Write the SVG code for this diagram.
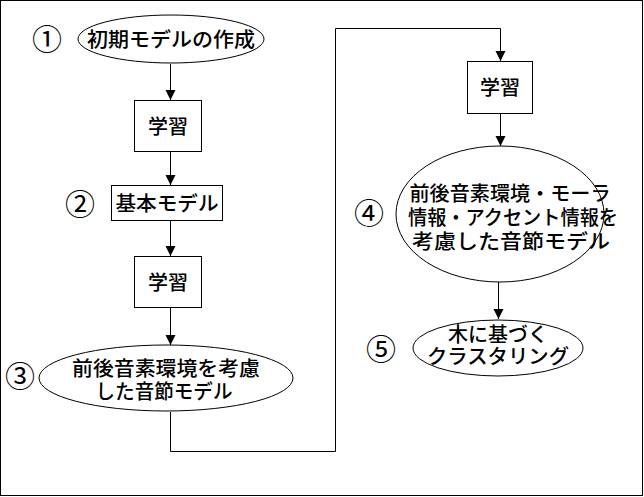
<svg xmlns="http://www.w3.org/2000/svg" width="644" height="497" viewBox="0 0 644 497">
<style>
.s{fill:#fff;stroke:#000;stroke-width:1}
.t{font-family:"Noto Sans CJK JP","Noto Sans CJK SC",sans-serif;font-size:20px;font-weight:500;fill:#000;text-anchor:middle}
.n{font-family:"Noto Sans CJK JP","Noto Sans CJK SC",sans-serif;font-size:30px;fill:#000;text-anchor:middle}
.c{fill:none;stroke:#000;stroke-width:1}
</style>
<defs>
<marker id="ah" markerWidth="10" markerHeight="14" refX="10" refY="7" orient="auto" markerUnits="userSpaceOnUse">
<path d="M0,2 L10,7 L0,12 z" fill="#000"/>
</marker>
</defs>
<rect x="0.5" y="0.5" width="642" height="495" fill="#fff" stroke="#000"/>
<g id="connectors">
<path class="c" d="M170.5,64 V100" marker-end="url(#ah)"/>
<path class="c" d="M170.5,151 V185" marker-end="url(#ah)"/>
<path class="c" d="M170.5,220 V256" marker-end="url(#ah)"/>
<path class="c" d="M170.5,307 V345" marker-end="url(#ah)"/>
<path class="c" d="M170.5,412 V451.5 H335.5 V28.5 H500.5 V61" marker-end="url(#ah)"/>
<path class="c" d="M500.5,113 V146" marker-end="url(#ah)"/>
<path class="c" d="M498.5,282 V319" marker-end="url(#ah)"/>
</g>
<g id="n1">
<ellipse class="s" cx="171" cy="39" rx="93" ry="24"/>
<text class="t" x="171" y="47" textLength="168" lengthAdjust="spacingAndGlyphs">初期モデルの作成</text>
<text class="n" x="47" y="50">①</text>
</g>
<g id="n2">
<rect class="s" x="134.5" y="100.5" width="67" height="51"/>
<text class="t" x="168" y="134">学習</text>
</g>
<g id="n3">
<rect class="s" x="111.5" y="185.5" width="111" height="35"/>
<text class="t" x="167" y="211" textLength="103" lengthAdjust="spacingAndGlyphs">基本モデル</text>
<text class="n" x="80" y="215">②</text>
</g>
<g id="n4">
<rect class="s" x="134.5" y="256.5" width="67" height="51"/>
<text class="t" x="168" y="290">学習</text>
</g>
<g id="n5">
<ellipse class="s" cx="166" cy="378" rx="127" ry="33"/>
<text class="t" x="166" y="376" textLength="188" lengthAdjust="spacingAndGlyphs">前後音素環境を考慮</text>
<text class="t" x="164" y="399" textLength="137" lengthAdjust="spacingAndGlyphs">した音節モデル</text>
<text class="n" x="20" y="387">③</text>
</g>
<g id="n6">
<rect class="s" x="467.5" y="61.5" width="65" height="52"/>
<text class="t" x="500" y="95">学習</text>
</g>
<g id="n7">
<ellipse class="s" cx="500" cy="214" rx="104" ry="68"/>
<text class="t" x="510" y="201" textLength="201" lengthAdjust="spacingAndGlyphs">前後音素環境・モーラ</text>
<text class="t" x="513" y="225" textLength="210" lengthAdjust="spacingAndGlyphs">情報・アクセント情報を</text>
<text class="t" x="511" y="249" textLength="198" lengthAdjust="spacingAndGlyphs">考慮した音節モデル</text>
<text class="n" x="369" y="224">④</text>
</g>
<g id="n8">
<ellipse class="s" cx="498" cy="348" rx="85" ry="28"/>
<text class="t" x="498" y="342">木に基づく</text>
<text class="t" x="498" y="364" textLength="142" lengthAdjust="spacingAndGlyphs">クラスタリング</text>
<text class="n" x="381" y="360">⑤</text>
</g>
</svg>
